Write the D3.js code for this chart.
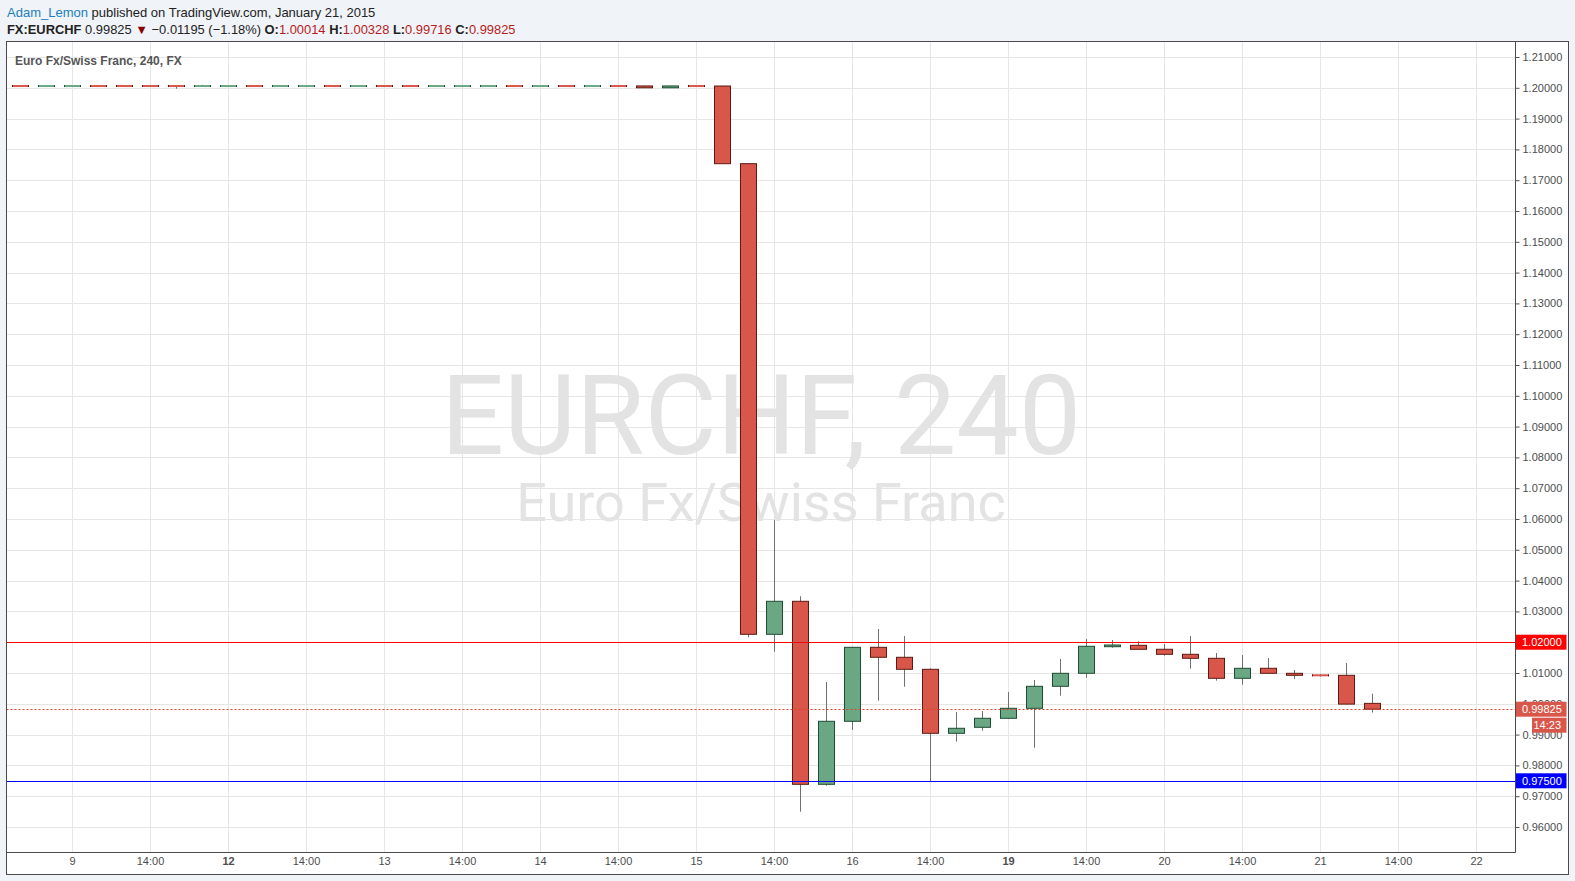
<!DOCTYPE html>
<html><head><meta charset="utf-8">
<script src="https://cdn.jsdelivr.net/npm/d3@7"></script>
<style>
body{margin:0;background:#f0f3f7;}
svg{display:block;}
</style></head><body>
<svg id="c" width="1575" height="881"></svg>
<script>
// ---- DATA (EURCHF, 240 min bars) ----
const opens  = [1.20060,1.20054,1.20054,1.20060,1.20060,1.20060,1.20060,1.20054,1.20054,1.20060,
                1.20054,1.20054,1.20060,1.20054,1.20060,1.20060,1.20054,1.20054,1.20054,1.20060,
                1.20054,1.20060,1.20054,1.20060,1.20060,1.20000,1.20060,1.20058,1.17536,1.02256,
                1.03328,0.97386,0.99432,1.01834,1.01510,1.01120,0.99042,0.99237,0.99529,0.99854,
                1.00568,1.00990,1.01854,1.01899,1.01770,1.01607,1.01477,1.00828,1.01153,1.00990,
                1.00930,1.00925,1.00014];
const highs  = [1.20062,1.20062,1.20062,1.20062,1.20062,1.20062,1.20062,1.20100,1.20062,1.20062,
                1.20062,1.20062,1.20062,1.20062,1.20062,1.20062,1.20062,1.20062,1.20062,1.20062,
                1.20062,1.20062,1.20062,1.20062,1.20062,1.20062,1.20062,1.20065,1.17536,1.05970,
                1.03490,1.00708,1.01840,1.02429,1.02200,1.01150,0.99734,0.99766,1.00383,1.00773,
                1.01455,1.02104,1.02071,1.02029,1.01942,1.02201,1.01649,1.01584,1.01487,1.01097,
                1.00970,1.01325,1.00328];
const lows   = [1.20052,1.20052,1.20052,1.20052,1.20052,1.20052,1.19970,1.20052,1.20052,1.20052,
                1.20052,1.20052,1.20052,1.20052,1.20052,1.20052,1.20052,1.20052,1.20052,1.20052,
                1.20052,1.20052,1.20052,1.20052,1.19998,1.19998,1.20052,1.17530,1.02160,1.01692,
                0.96497,0.97341,0.99150,1.00100,1.00555,0.97471,0.98770,0.99127,0.99520,0.98575,
                1.00263,1.00847,1.01821,1.01770,1.01562,1.01140,1.00750,1.00620,1.00990,1.00805,
                1.00880,0.99984,0.99716];
const closes = [1.20054,1.20060,1.20060,1.20054,1.20054,1.20054,1.20054,1.20060,1.20060,1.20054,
                1.20060,1.20060,1.20054,1.20060,1.20054,1.20054,1.20060,1.20060,1.20060,1.20054,
                1.20060,1.20054,1.20060,1.20054,1.20000,1.20060,1.20054,1.17536,1.02256,1.03328,
                0.97386,0.99432,1.01834,1.01510,1.01120,0.99042,0.99205,0.99530,0.99854,1.00568,
                1.00990,1.01867,1.01909,1.01770,1.01607,1.01477,1.00828,1.01153,1.00990,1.00925,
                1.00920,0.99990,0.99825];
const yTicks = [0.96,0.97,0.98,0.99,1.00,1.01,1.02,1.03,1.04,1.05,1.06,1.07,1.08,1.09,1.10,
                1.11,1.12,1.13,1.14,1.15,1.16,1.17,1.18,1.19,1.20,1.21];
const xTickBars   = [2,5,8,11,14,17,20,23,26,29,32,35,38,41,44,47,50,53,56];
const xTickLabels = ["9","14:00","12","14:00","13","14:00","14","14:00","15","14:00",
                     "16","14:00","19","14:00","20","14:00","21","14:00","22"];
const boldTickLabels = ["12","19"];
const levelValues = [1.02, 0.975];
const levelColors = ["#ff0000", "#0000ff"];
const lastPrice = 0.99825;
const countdown = "14:23";

// ---- LAYOUT ----
const svg = d3.select("#c");
const L = 6.5, R = 1515.5, T = 41.5, B = 852.5, OR = 1568.5, OB = 874.5;
const x = d3.scaleLinear().domain([0, 1]).range([20.5, 46.5]);
const y = d3.scaleLinear().domain([0.96, 1.21]).range([827, 57]);
const RED = "#d9574a", GREEN = "#6aa884", RED_B = "#5e1a12", GREEN_B = "#1e4d33";

// frame
svg.append("rect").attr("x", L).attr("y", T).attr("width", OR - L).attr("height", OB - T)
  .attr("fill", "#fff").attr("stroke", "#4a4a4a").attr("stroke-width", 1);

const plot = svg.append("g");
plot.append("clipPath").attr("id","clip").append("rect")
  .attr("x", L+0.5).attr("y", T+0.5).attr("width", R-L-1).attr("height", B-T-1);
const gp = plot.append("g").attr("clip-path", "url(#clip)");

// grid
gp.selectAll(".hg").data(yTicks).join("line")
  .attr("x1", L).attr("x2", R)
  .attr("y1", d => Math.round(y(d)) + 0.5).attr("y2", d => Math.round(y(d)) + 0.5)
  .attr("stroke", "#e6e6e6");
gp.selectAll(".vg").data(xTickBars).join("line")
  .attr("x1", d => x(d)).attr("x2", d => x(d)).attr("y1", T).attr("y2", B)
  .attr("stroke", "#e6e6e6");

// watermark
const cx = (L + R) / 2;
gp.append("text").attr("x", cx).attr("y", 454).attr("text-anchor", "middle")
  .attr("font-family", "Roboto, sans-serif").attr("font-size", 111).attr("fill", "#e3e3e3")
  .text("EURCHF, 240");
gp.append("text").attr("x", cx).attr("y", 521).attr("text-anchor", "middle")
  .attr("font-family", "Roboto, sans-serif").attr("font-size", 54).attr("fill", "#e3e3e3")
  .text("Euro Fx/Swiss Franc");

// candles
const bars = d3.range(opens.length).map(i => ({i, o: opens[i], h: highs[i], l: lows[i], c: closes[i]}));
gp.selectAll(".wick").data(bars).join("line")
  .attr("x1", d => x(d.i)).attr("x2", d => x(d.i))
  .attr("y1", d => y(d.h)).attr("y2", d => y(d.l))
  .attr("stroke", "#707070").attr("stroke-width", 1);
const bw = 16;
bars.forEach(d => {
  const up = d.c >= d.o;
  const top = y(Math.max(d.o, d.c)), bot = y(Math.min(d.o, d.c));
  const h = bot - top;
  if (h < 1) {
    gp.append("rect").attr("x", x(d.i) - bw/2 - 0.5).attr("y", (top+bot)/2 - 1)
      .attr("width", bw + 1).attr("height", 2).attr("fill", up ? GREEN : RED);
    gp.append("rect").attr("x", x(d.i) - bw/2 - 0.5).attr("y", (top+bot)/2 - 1)
      .attr("width", 1).attr("height", 2).attr("fill", up ? GREEN_B : RED_B);
    gp.append("rect").attr("x", x(d.i) + bw/2 - 0.5).attr("y", (top+bot)/2 - 1)
      .attr("width", 1).attr("height", 2).attr("fill", up ? GREEN_B : RED_B);
  } else {
    gp.append("rect").attr("x", x(d.i) - bw/2).attr("y", top)
      .attr("width", bw).attr("height", h)
      .attr("fill", up ? GREEN : RED).attr("stroke", up ? GREEN_B : RED_B).attr("stroke-width", 1);
  }
});

// horizontal levels
gp.selectAll(".lvl").data(levelValues).join("line")
  .attr("x1", L).attr("x2", R)
  .attr("y1", d => Math.round(y(d)) + 0.5).attr("y2", d => Math.round(y(d)) + 0.5)
  .attr("stroke", (d, i) => levelColors[i]).attr("stroke-width", 1);
// last price dotted
gp.append("line").attr("x1", L).attr("x2", R)
  .attr("y1", Math.round(y(lastPrice)) + 0.5).attr("y2", Math.round(y(lastPrice)) + 0.5)
  .attr("stroke", "#e0402e").attr("stroke-dasharray", "2,2");

// axes lines
svg.append("line").attr("x1", R).attr("x2", R).attr("y1", T).attr("y2", B).attr("stroke", "#4a4a4a");
svg.append("line").attr("x1", L).attr("x2", R).attr("y1", B).attr("y2", B).attr("stroke", "#4a4a4a");

// right axis
const yAxis = d3.axisRight(y).tickValues(yTicks).tickFormat(d3.format(".5f")).tickSize(4).tickPadding(3);
const ya = svg.append("g").attr("transform", `translate(${R},0)`).call(yAxis);
ya.select(".domain").remove();
ya.selectAll(".tick line").attr("stroke", "#555");
ya.selectAll(".tick text").attr("font-family", "Liberation Sans, Arial, sans-serif")
  .attr("font-size", 11).attr("fill", "#4d4d4d");

// bottom axis
const xa = svg.append("g");
xa.selectAll("text").data(xTickBars).join("text")
  .attr("x", d => x(d)).attr("y", 865).attr("text-anchor", "middle")
  .attr("font-family", "Liberation Sans, Arial, sans-serif").attr("font-size", 11)
  .attr("fill", "#4d4d4d")
  .attr("font-weight", (d, i) => boldTickLabels.includes(xTickLabels[i]) ? "bold" : "normal")
  .text((d, i) => xTickLabels[i]);

// price labels
function priceLabel(v, color, txt) {
  const yc = y(v);
  svg.append("rect").attr("x", R + 0.5).attr("y", yc - 7.5).attr("width", 50.5).attr("height", 15).attr("fill", color);
  svg.append("text").attr("x", R + 6.5).attr("y", yc + 4).attr("font-family", "Liberation Sans, Arial, sans-serif")
    .attr("font-size", 11).attr("fill", "#fff").text(txt);
}
levelValues.forEach((v, i) => priceLabel(v, levelColors[i], d3.format(".5f")(v)));
priceLabel(lastPrice, RED, d3.format(".5f")(lastPrice));
{
  const yc = y(lastPrice) + 15;
  svg.append("rect").attr("x", 1532).attr("y", yc - 6.5).attr("width", 34.5).attr("height", 15).attr("fill", RED);
  svg.append("text").attr("x", 1561).attr("y", yc + 5).attr("text-anchor", "end")
    .attr("font-family", "Liberation Sans, Arial, sans-serif").attr("font-size", 11).attr("fill", "#fff").text(countdown);
}

// chart title in plot
svg.append("text").attr("x", 15).attr("y", 65).attr("font-family", "Liberation Sans, Arial, sans-serif")
  .attr("font-size", 12).attr("font-weight", "bold").attr("fill", "#555").text("Euro Fx/Swiss Franc, 240, FX");

// header
const F = "Liberation Sans, Arial, sans-serif";
const h1 = svg.append("text").attr("x", 7).attr("y", 16.5).attr("font-family", F).attr("font-size", 13).attr("fill", "#222");
h1.append("tspan").attr("fill", "#1a7fc1").text("Adam_Lemon");
h1.append("tspan").text(" published on TradingView.com, January 21, 2015");

const h2 = svg.append("text").attr("x", 7).attr("y", 34).attr("font-family", F).attr("font-size", 12.9).attr("fill", "#222");
const seg = (t, opts = {}) => { const s = h2.append("tspan").text(t); if (opts.b) s.attr("font-weight", "bold"); if (opts.c) s.attr("fill", opts.c); return s; };
const VR = "#b71c1c";
seg("FX:EURCHF", {b: 1}); seg(" 0.99825 "); seg("▼", {c: "#8b0000"}); seg(" −0.01195 (−1.18%) ");
seg("O:", {b: 1}); seg("1.00014", {c: VR}); seg(" ");
seg("H:", {b: 1}); seg("1.00328", {c: VR}); seg(" ");
seg("L:", {b: 1}); seg("0.99716", {c: VR}); seg(" ");
seg("C:", {b: 1}); seg("0.99825", {c: VR});
</script>
</body></html>
